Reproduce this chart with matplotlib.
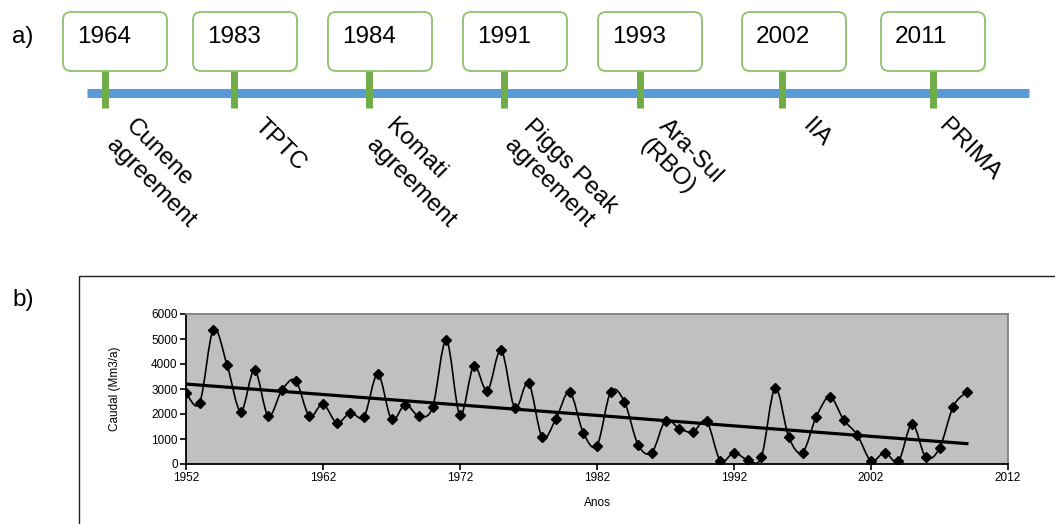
import numpy as np
import matplotlib
matplotlib.use("Agg")
import matplotlib.pyplot as plt
from matplotlib.patches import FancyBboxPatch, PathPatch, Rectangle
from matplotlib.path import Path

plt.rcParams['font.family'] = ['Liberation Sans', 'DejaVu Sans']

# timeline events
event_years = ['1964', '1983', '1984', '1991', '1993', '2002', '2011']
event_names = ['Cunene\nagreement', 'TPTC', 'Komati\nagreement',
               'Piggs Peak\nagreement', 'Ara-Sul\n(RBO)', 'IIA', 'PRIMA']

# annual flow series
years = np.arange(1952, 2010)
flow = [2850, 2450, 5380, 3960, 2100, 3760, 1920, 2950, 3340, 1920,
        2400, 1650, 2050, 1900, 3600, 1790, 2380, 1920, 2270, 4960,
        1950, 3910, 2930, 4560, 2240, 3250, 1070, 1800, 2880, 1250,
        740, 2880, 2490, 770, 460, 1740, 1420, 1280, 1710, 140,
        450, 170, 280, 3040, 1070, 460, 1880, 2690, 1770, 1160,
        130, 460, 110, 1600, 270, 630, 2300, 2890]

W, H = 1055, 524
fig = plt.figure(figsize=(W / 100, H / 100), dpi=100)

# ---- panel a: timeline, drawn in pixel units ----
ta = fig.add_axes([0, 0, 1, 1])
ta.set_xlim(0, W)
ta.set_ylim(H, 0)
ta.axis('off')

stem_x = [105, 234, 369, 504, 640, 782, 933]
box_x = [63, 193, 328, 463, 598, 742, 881]
lab_dx = [32, 32, 28, 31, 30, 32, 17]

ta.plot([87, 1029], [92.5, 92.5], color='#5B9BD5', lw=6.5,
        solid_capstyle='butt', zorder=2)
for sx, bx, yr, name, dx in zip(stem_x, box_x, event_years, event_names, lab_dx):
    ta.plot([sx, sx], [71, 108], color='#70AD47', lw=5,
            solid_capstyle='butt', zorder=3)
    box = FancyBboxPatch((bx + 8, 12 + 8), 104 - 16, 59 - 16,
                         boxstyle='round,pad=8', fc='white', ec='#8CC26C',
                         lw=1.3, zorder=4)
    ta.add_patch(box)
    ta.text(bx + 14, 37, yr, fontsize=17.5, va='center', ha='left', zorder=5)
    ta.text(sx + dx, 115, name, fontsize=17.5, rotation=-45,
            rotation_mode='anchor', ha='left', va='top',
            multialignment='left', linespacing=1.3)

ta.text(12, 37, 'a)', fontsize=17.5, va='center', ha='left')
ta.text(12, 300, 'b)', fontsize=17.5, va='center', ha='left')

# frame around panel b
ta.add_patch(Rectangle((79, 276), W, H, fill=False, ec='#222222', lw=1.0))

# ---- panel b: flow series ----
ax = fig.add_axes([186 / W, 1 - 464 / H, (1008 - 186) / W, (464 - 314) / H])
ax.set_facecolor('#C0C0C0')
ax.set_xlim(1952, 2012)
ax.set_ylim(0, 6000)
ax.set_xticks(np.arange(1952, 2013, 10))
ax.set_yticks(np.arange(0, 6001, 1000))
ax.tick_params(labelsize=8.5, length=4, width=1.2, direction='out', pad=2)
for s in ['left', 'bottom']:
    ax.spines[s].set_color('black')
    ax.spines[s].set_linewidth(1.3)
for s in ['top', 'right']:
    ax.spines[s].set_color('#808080')
    ax.spines[s].set_linewidth(1.3)
ax.set_ylabel('Caudal (Mm3/a)', fontsize=8.5, labelpad=22)
ax.set_xlabel('Anos', fontsize=8.5, labelpad=9)

# smoothed line through the points (Bezier segments, Catmull-Rom style)
pts = np.column_stack([years, flow]).astype(float)
verts = [pts[0]]
codes = [Path.MOVETO]
n = len(pts)
for i in range(n - 1):
    p0 = pts[i - 1] if i > 0 else pts[i]
    p1 = pts[i]
    p2 = pts[i + 1]
    p3 = pts[i + 2] if i + 2 < n else pts[i + 1]
    c1 = p1 + (p2 - p0) / 6
    c2 = p2 - (p3 - p1) / 6
    verts += [c1, c2, p2]
    codes += [Path.CURVE4] * 3
ax.add_patch(PathPatch(Path(verts, codes), fc='none', ec='black', lw=1.2,
                       zorder=3))
ax.plot(years, flow, ls='none', marker='D', ms=5.5, color='black', zorder=4)

# linear trend
k, b = np.polyfit(years, flow, 1)
ax.plot([years[0], years[-1]], [k * years[0] + b, k * years[-1] + b],
        color='black', lw=2.3, zorder=3)

fig.savefig('out.png', dpi=100)
